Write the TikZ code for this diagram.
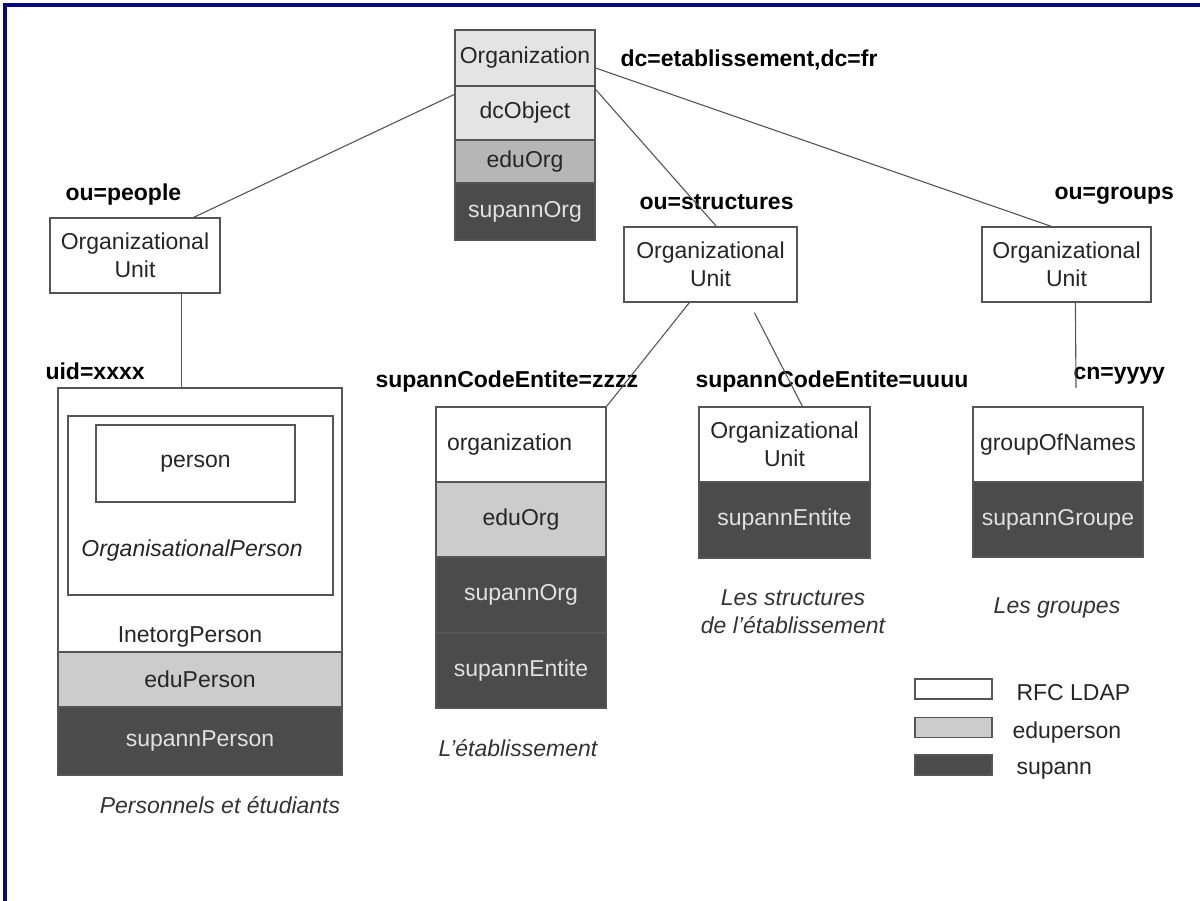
\documentclass[tikz,border=0pt]{standalone}
\usepackage{fontspec}
\setmainfont{Liberation Sans}
\usetikzlibrary{calc}
\definecolor{framenavy}{RGB}{8,8,128}
\definecolor{edgegray}{RGB}{85,85,85}
\definecolor{palegray}{RGB}{228,228,228}
\definecolor{topedugray}{RGB}{182,182,182}
\definecolor{edugray}{RGB}{204,204,204}
\definecolor{supgray}{RGB}{75,75,75}
\definecolor{suptext}{RGB}{225,225,225}
\newcommand\cellfont{\fontsize{23}{28}\selectfont}

\begin{document}
\begin{tikzpicture}[x=1pt,y=-1pt,
  cell/.style={draw=edgegray, line width=1.2pt, inner sep=0pt, align=center, font=\cellfont, text=black!85},
  rfc/.style={cell, fill=white},
  pale/.style={cell, fill=palegray},
  edu/.style={cell, fill=edugray},
  sup/.style={cell, fill=supgray, text=suptext},
  dn/.style={font=\cellfont\bfseries, anchor=base west},
  caption/.style={font=\cellfont\itshape, align=center, text=black!80},
  legtext/.style={font=\cellfont, anchor=base west, text=black!85},
  link/.style={draw=edgegray, line width=1.1pt}]
    \useasboundingbox (0,0) rectangle (1200,901);
    \draw[framenavy, line width=4] (5,901) -- (5,5) -- (1200,5);

    \node[pale, minimum width=140, minimum height=56] (org) at (525,58) {Organization};
    \node[pale, minimum width=140, minimum height=54] (dcobj) at (525,113) {dcObject};
    \node[cell, fill=topedugray, minimum width=140, minimum height=43] (eduorgtop) at (525,161.5) {eduOrg};
    \node[sup, minimum width=140, minimum height=57] (suporgtop) at (525,211.5) {supannOrg};

    \node[rfc, minimum width=170, minimum height=75] (ouP) at (135,255.5) {Organizational\\Unit};
    \node[rfc, minimum width=173, minimum height=75] (ouS) at (710.5,264.5) {Organizational\\Unit};
    \node[rfc, minimum width=169, minimum height=75] (ouG) at (1066.5,264.5) {Organizational\\Unit};

    \node[rfc, minimum width=284, minimum height=264] (inetorg) at (200,520) {};
    \node[rfc, minimum width=265, minimum height=179] (orgperson) at (200.5,505.5) {};
    \node[rfc, minimum width=199, minimum height=77] (person) at (195.5,463.5) {person};
    \node[font=\cellfont\itshape, text=black!85] (orgpersontxt) at (192,551) {OrganisationalPerson};
    \node[font=\cellfont, text=black!85] (inetorgtxt) at (190,637) {InetorgPerson};
    \node[edu, minimum width=284, minimum height=55] (eduperson) at (200,679.5) {eduPerson};
    \node[sup, minimum width=284, minimum height=68] (supperson) at (200,741) {supannPerson};

    \node[rfc, minimum width=170, minimum height=75, text width=148, align=left] (orgz) at (521,444.5) {organization};
    \node[edu, minimum width=170, minimum height=75] (eduorgz) at (521,519.5) {eduOrg};
    \node[sup, minimum width=170, minimum height=76] (suporgz) at (521,595) {supannOrg};
    \node[sup, minimum width=170, minimum height=75] (supentz) at (521,670.5) {supannEntite};

    \node[rfc, minimum width=171, minimum height=75] (ouU) at (784.5,444.5) {Organizational\\Unit};
    \node[sup, minimum width=171, minimum height=76] (supentu) at (784.5,520) {supannEntite};

    \node[rfc, minimum width=170, minimum height=75] (gon) at (1058,444.5) {groupOfNames};
    \node[sup, minimum width=170, minimum height=75] (supgrp) at (1058,519.5) {supannGroupe};

    \node[caption] (capP) at (220,805) {Personnels et étudiants};
    \node[caption] (capZ) at (518,748) {L’établissement};
    \node[caption] (capU) at (793,612) {Les structures\\de l’établissement};
    \node[caption] (capG) at (1057,608) {Les groupes};

    \node[dn] (dcroot) at (617,67) {dc=etablissement,dc=fr};
    \node[dn] (dnP) at (62,201) {ou=people};
    \node[dn] (dnS) at (636,210) {ou=structures};
    \node[dn] (dnG) at (1051,200) {ou=groups};
    \node[dn] (dnuid) at (42,380) {uid=xxxx};
    \node[dn] (dnZ) at (372,388) {supannCodeEntite=zzzz};
    \node[dn] (dnU) at (692,388) {supannCodeEntite=uuuu};
    \node[dn] (dncn) at (1070,380) {cn=yyyy};

    \node[rfc, minimum width=77, minimum height=20] (legR) at (953.5,689) {};
    \node[edu, minimum width=77, minimum height=20] (legE) at (953.5,727.5) {};
    \node[sup, minimum width=77, minimum height=20] (legS) at (953.5,765) {};
    \node[legtext] (legRt) at (1013,700) {RFC LDAP};
    \node[legtext] (legEt) at (1009,738) {eduperson};
    \node[legtext] (legSt) at (1013,774) {supann};

    \draw[link] ($(dcobj.north west)+(0,9)$) -- ($(ouP.north east)+(-27,0)$);
    \draw[link] ($(dcobj.north east)+(0,4)$) -- ($(ouS.north west)+(93,0)$);
    \draw[link] ($(org.east)+(0,10)$) -- ($(ouG.north west)+(70,0)$);
    \draw[link] ($(ouP.south west)+(132,0)$) -- ($(inetorg.north west)+(124,0)$);
    \draw[link] ($(ouS.south west)+(66,0)$) -- (orgz.north east);
    \draw[link] ($(ouS.south west)+(131,10)$) -- ($(ouU.north west)+(104,0)$);
    \coordinate (cnend) at (1076,388);
    \draw[link] ($(ouG.south west)+(94,0)$) -- (cnend);
\end{tikzpicture}
\end{document}
